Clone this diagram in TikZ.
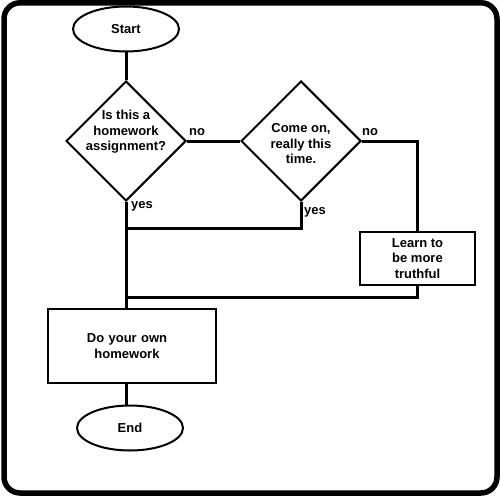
\documentclass[tikz,border=0pt]{standalone}
\usepackage{fontspec}
\setmainfont{Liberation Sans}
\usetikzlibrary{shapes.geometric}
\begin{document}
\begin{tikzpicture}[x=1pt,y=-1pt,
  font=\bfseries\fontsize{13}{15.5}\selectfont,
  shapeline/.style={draw=black,line width=2pt},
  terminal/.style={shapeline,ellipse,inner sep=0pt,minimum width=106pt,minimum height=45pt},
  decision/.style={shapeline,diamond,inner sep=0pt,minimum width=120pt,minimum height=120pt},
  process/.style={shapeline,rectangle,inner sep=0pt,align=center},
  txt/.style={align=center,inner sep=0pt},
  lbl/.style={inner sep=0pt},
  flow/.style={draw=black,line width=3pt}]
\useasboundingbox (0,0) rectangle (500,500);
% outer frame
\draw[line width=5.5pt,rounded corners=16pt] (4,2.8) rectangle (497,493);

% shapes
\node[terminal] (start) at (126,29) {Start};
\node[decision] (d1) at (126,141) {};
\node[txt] (d1t) at (126,132) {Is this a\\homework\\assignment?};
\node[decision] (d2) at (301,141) {};
\node[txt] (d2t) at (301,144) {Come on,\\really this\\time.};
\node[process,minimum width=115pt,minimum height=53pt] (learn) at (417.5,258.5) {Learn to\\be more\\truthful};
\node[process,minimum width=168pt,minimum height=74pt,text width=150pt] (own) at (132,346) {\hspace*{-10pt}Do your own\\\hspace*{-10pt}homework};
\node[terminal] (end) at (130,428) {End};

% junction points on the main line
\coordinate (j1) at (126,228);
\coordinate (j2) at (126,297);

% connectors
\draw[flow] (start.south) -- (d1.north);
\draw[flow] (d1.east) -- (d2.west);
\draw[flow] (d2.east) -| (learn.north);
\draw[flow] (d2.south) |- (j1);
\draw[flow] (learn.south) |- (j2);
\draw[flow] (d1.south) -- (d1.south |- own.north);
\draw[flow] (d1.south |- own.south) -- (d1.south |- end.north);

% branch labels
\node[lbl] (no1) at (197,132) {no};
\node[lbl] (no2) at (370,132) {no};
\node[lbl,anchor=west] (yes1) at (131,206) {yes};
\node[lbl,anchor=west] (yes2) at (304,212) {yes};
\end{tikzpicture}
\end{document}
